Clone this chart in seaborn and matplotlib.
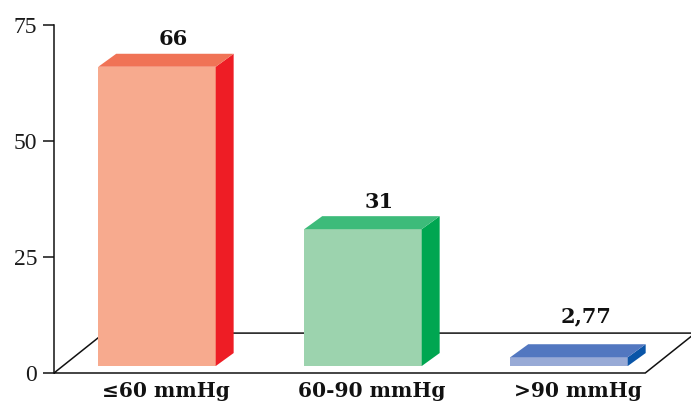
import numpy as np
import seaborn as sns
import matplotlib.pyplot as plt
from matplotlib.patches import Polygon

# data
categories = ['≤60 mmHg', '60-90 mmHg', '>90 mmHg']
values = [66, 31, 2.77]
value_labels = ['66', '31', '2,77']
y_ticks = [0, 25, 50, 75]

front_colors = ['#F7AA8E', '#9CD3AE', '#98AAD6']
top_colors = ['#F07356', '#3DBB7A', '#5277C0']
side_colors = ['#EE1D25', '#00A651', '#0A55A8']

sns.set_style('white')
plt.rcParams['font.family'] = ['DejaVu Serif']

fig = plt.figure(figsize=(6.91, 4.05), dpi=100)
ax = fig.add_axes([54 / 691, 32 / 405, 637 / 691, 348 / 405])

sns.barplot(x=categories, y=values, hue=categories, palette=front_colors,
            width=0.57, legend=False, saturation=1, ax=ax, zorder=2)

ax.set_xlim(-0.5, 2.592)
ax.set_ylim(0, 75)

# 3d look: depth of the bars and of the floor, in data units
bar_dx, bar_dy = 0.087, 2.8
floor_dx, floor_dy = 0.243, 8.6
lift = 1.5

# floor
floor_right = 2.37
floor = Polygon([(-0.5, 0), (floor_right, 0), (floor_right + floor_dx, floor_dy),
                 (-0.5 + floor_dx, floor_dy)], closed=True, fill=False,
                edgecolor='#111111', lw=1.1, clip_on=False, zorder=1)
ax.add_patch(floor)

for i, p in enumerate(ax.patches[:3]):
    v = max(values[i], 3.4)
    p.set_y(lift)
    p.set_height(v - lift)
    p.set_edgecolor('none')
    left = p.get_x()
    right = left + p.get_width()
    side = Polygon([(right, lift), (right + bar_dx, lift + bar_dy),
                    (right + bar_dx, v + bar_dy), (right, v)],
                   closed=True, facecolor=side_colors[i], edgecolor='none', zorder=2)
    top = Polygon([(left, v), (left + bar_dx, v + bar_dy),
                   (right + bar_dx, v + bar_dy), (right, v)],
                  closed=True, facecolor=top_colors[i], edgecolor='none', zorder=2)
    ax.add_patch(side)
    ax.add_patch(top)
    ax.text(i + 0.08, max(v, 6.3) + 3.8, value_labels[i], ha='center', va='bottom',
            fontsize=15, fontweight='bold', color='#111111')

sns.despine(ax=ax, bottom=True)
ax.spines['left'].set_color('#111111')
ax.spines['left'].set_linewidth(1.1)

ax.set_yticks(y_ticks)
ax.set_yticklabels([str(t) for t in y_ticks], family=['Liberation Serif'],
                   fontsize=17, color='#1a1a1a')
ax.tick_params(axis='y', direction='out', length=8, width=1.1, pad=4, left=True,
               color='#111111')

ax.set_xticks(np.arange(len(categories)) + bar_dx / 2)
ax.set_xticklabels(categories, fontsize=14.5, fontweight='bold', color='#111111')
ax.tick_params(axis='x', length=0, pad=6)
ax.set_xlabel('')
ax.set_ylabel('')

fig.savefig('out.png', dpi=100)
